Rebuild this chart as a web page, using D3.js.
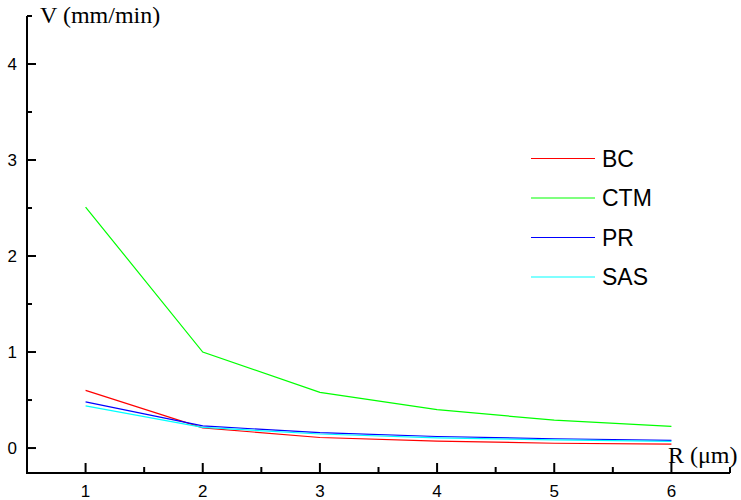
<!DOCTYPE html>
<html><head><meta charset="utf-8">
<script src="https://cdn.jsdelivr.net/npm/d3@7"></script>
<style>body{margin:0;background:#fff}
.serif{font-family:"Liberation Serif","Times New Roman",serif}
.sans{font-family:"Liberation Sans",Arial,sans-serif}
</style>
</head><body>
<svg id="c" width="741" height="500"></svg>
<script>
const xValues = [1, 2, 3, 4, 5, 6];
const seriesNames = ["BC", "CTM", "PR", "SAS"];
const bcValues  = [0.60, 0.21, 0.11, 0.073, 0.05, 0.04];
const ctmValues = [2.51, 1.00, 0.58, 0.40, 0.29, 0.226];
const prValues  = [0.48, 0.23, 0.16, 0.12, 0.097, 0.08];
const sasValues = [0.44, 0.215, 0.146, 0.105, 0.085, 0.07];
const seriesColors = ["#ff0000", "#00ff00", "#0000ff", "#00ffff"];
const xTickValues = [1, 2, 3, 4, 5, 6];
const yTickValues = [0, 1, 2, 3, 4];

const allValues = [bcValues, ctmValues, prValues, sasValues];
const svg = d3.select("#c");
const x = d3.scaleLinear().domain([0.5, 6.5]).range([27, 730]);
const y = d3.scaleLinear().domain([-0.26, 4.5]).range([473, 16]);

const g = svg.append("g");
const line = d3.line().x((d, i) => x(xValues[i])).y(d => y(d));
allValues.forEach((vals, k) => {
  g.append("path").datum(vals).attr("d", line)
    .attr("fill", "none").attr("stroke", seriesColors[k]).attr("stroke-width", 1.2);
});

// x axis
const xAxis = svg.append("g");
xAxis.append("line").attr("x1", x(0.5)).attr("x2", x(6.5)).attr("y1", y(-0.26)).attr("y2", y(-0.26))
  .attr("stroke", "#000").attr("stroke-width", 2);
xTickValues.forEach(v => {
  xAxis.append("line").attr("x1", x(v)).attr("x2", x(v)).attr("y1", y(-0.26)).attr("y2", y(-0.26) - 10)
    .attr("stroke", "#000").attr("stroke-width", 2);
  xAxis.append("text").attr("class", "sans").attr("x", x(v)).attr("y", 497).attr("text-anchor", "middle")
    .attr("font-size", 17).text(v);
});
d3.range(1.5, 7, 1).forEach(v => {
  xAxis.append("line").attr("x1", x(v)).attr("x2", x(v)).attr("y1", y(-0.26)).attr("y2", y(-0.26) - 6)
    .attr("stroke", "#000").attr("stroke-width", 2);
});

// y axis
const yAxis = svg.append("g");
yAxis.append("line").attr("x1", x(0.5)).attr("x2", x(0.5)).attr("y1", y(-0.26) + 1).attr("y2", y(4.5))
  .attr("stroke", "#000").attr("stroke-width", 2);
yTickValues.forEach(v => {
  yAxis.append("line").attr("x1", x(0.5)).attr("x2", x(0.5) + 9).attr("y1", y(v)).attr("y2", y(v))
    .attr("stroke", "#000").attr("stroke-width", 2);
  yAxis.append("text").attr("class", "sans").attr("x", 17).attr("y", y(v) + 6).attr("text-anchor", "end")
    .attr("font-size", 17).text(v);
});
d3.range(0.5, 5, 1).forEach(v => {
  yAxis.append("line").attr("x1", x(0.5)).attr("x2", x(0.5) + 5).attr("y1", y(v)).attr("y2", y(v))
    .attr("stroke", "#000").attr("stroke-width", 2);
});

// axis titles
svg.append("text").attr("class", "serif").attr("x", 40).attr("y", 23)
  .attr("font-size", 24).text("V (mm/min)");
svg.append("text").attr("class", "serif").attr("x", 668).attr("y", 463)
  .attr("font-size", 24).text("R (\u03bcm)");

// legend
const leg = svg.append("g");
seriesNames.forEach((n, k) => {
  const ly = 158.5 + k * 39.5;
  leg.append("line").attr("x1", 531).attr("x2", 595).attr("y1", ly).attr("y2", ly)
    .attr("stroke", seriesColors[k]).attr("stroke-width", 1.2);
  leg.append("text").attr("class", "sans").attr("x", 602).attr("y", ly + 8)
    .attr("font-size", 23).text(n);
});
</script>
</body></html>
